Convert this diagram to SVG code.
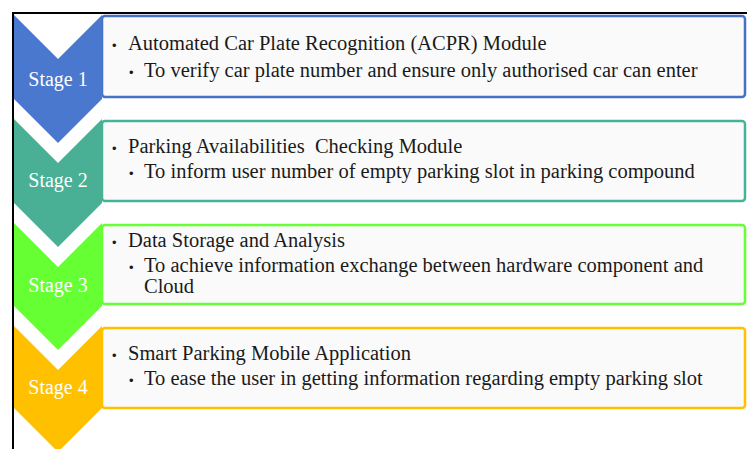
<svg xmlns="http://www.w3.org/2000/svg" width="747" height="449" viewBox="0 0 747 449">
  <style>
    .frame { fill: none; stroke: #000; stroke-width: 2; }
    .box { fill: #fafafa; stroke-width: 2.5; }
    .stage { font-family: 'Liberation Serif', 'Times New Roman', Times, serif; font-size: 20px; fill: #fff; text-anchor: middle; }
    .t { font-family: 'Liberation Serif', 'Times New Roman', Times, serif; font-size: 20.5px; fill: #1a1a1a; white-space: pre; }
    .b { font-family: 'Liberation Sans', Arial, sans-serif; font-size: 13px; fill: #1a1a1a; }
  </style>
  <rect width="747" height="449" fill="#fff"/>
  <path class="frame" d="M13 449 V13 H747"/>

  <g id="stage1">
    <rect class="box" x="102" y="16" width="643" height="81" rx="3" stroke="#4472C4"/>
    <polygon points="14,15 58,59 102,15 102,99 58,143 14,99" fill="#4A78CE"/>
    <text class="stage" x="58" y="86">Stage 1</text>
    <text class="b" x="112" y="50">•</text>
    <text class="t" x="128" y="50">Automated Car Plate Recognition (ACPR) Module</text>
    <text class="b" x="129" y="77">•</text>
    <text class="t" x="144" y="77">To verify car plate number and ensure only authorised car can enter</text>
  </g>

  <g id="stage2">
    <rect class="box" x="102" y="121" width="643" height="80" rx="3" stroke="#47B396"/>
    <polygon points="14,119 58,163 102,119 102,203 58,247 14,203" fill="#4AB095"/>
    <text class="stage" x="58" y="187">Stage 2</text>
    <text class="b" x="112" y="153">•</text>
    <text class="t" x="128" y="153">Parking Availabilities  Checking Module</text>
    <text class="b" x="129" y="178">•</text>
    <text class="t" x="144" y="178">To inform user number of empty parking slot in parking compound</text>
  </g>

  <g id="stage3">
    <rect class="box" x="102" y="225" width="643" height="79" rx="3" stroke="#66FF33"/>
    <polygon points="14,223 58,267 102,223 102,306 58,350 14,306" fill="#66FF33"/>
    <text class="stage" x="58" y="292">Stage 3</text>
    <text class="b" x="112" y="247">•</text>
    <text class="t" x="128" y="247">Data Storage and Analysis</text>
    <text class="b" x="129" y="272">•</text>
    <text class="t" x="144" y="272">To achieve information exchange between hardware component and</text>
    <text class="t" x="144" y="293">Cloud</text>
  </g>

  <g id="stage4">
    <rect class="box" x="102" y="328" width="643" height="80" rx="3" stroke="#FFC000"/>
    <polygon points="14,326 58,370 102,326 102,408 58,452 14,408" fill="#FFC000"/>
    <text class="stage" x="58" y="394">Stage 4</text>
    <text class="b" x="112" y="360">•</text>
    <text class="t" x="128" y="360">Smart Parking Mobile Application</text>
    <text class="b" x="129" y="385">•</text>
    <text class="t" x="144" y="385">To ease the user in getting information regarding empty parking slot</text>
  </g>

  <g id="connectors"/>
</svg>
